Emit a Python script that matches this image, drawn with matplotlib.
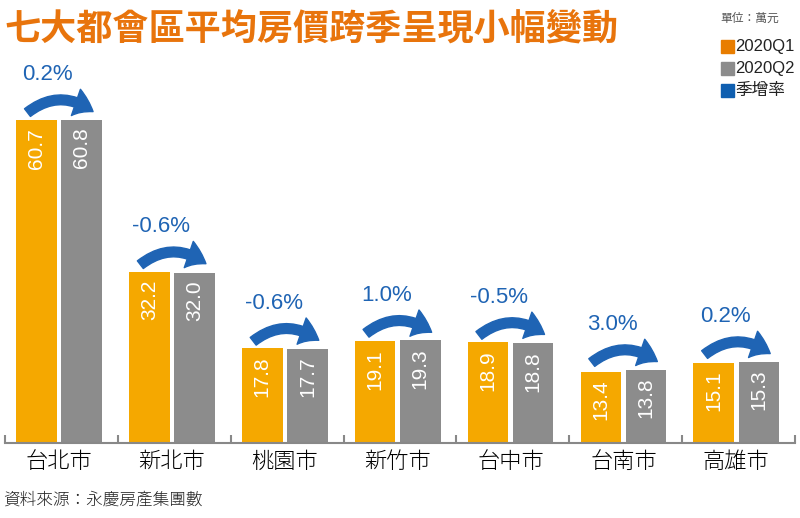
import numpy as np
import matplotlib.pyplot as plt
from matplotlib.patches import FancyArrowPatch, Rectangle

plt.rcParams['font.family'] = ['Noto Sans CJK JP', 'Noto Sans CJK TC', 'Noto Sans CJK SC', 'DejaVu Sans']

cities = ['台北市', '新北市', '桃園市', '新竹市', '台中市', '台南市', '高雄市']
q1 = [60.7, 32.2, 17.8, 19.1, 18.9, 13.4, 15.1]
q2 = [60.8, 32.0, 17.7, 19.3, 18.8, 13.8, 15.3]
growth = ['0.2%', '-0.6%', '-0.6%', '1.0%', '-0.5%', '3.0%', '0.2%']

c_q1 = '#f5a800'
c_q2 = '#8c8c8c'
c_blue = '#1f64b4'
num_font = 'Liberation Sans'

fig = plt.figure(figsize=(8, 5.18), dpi=100)
ax = fig.add_axes([5/800, 75/518, 790/800, 443/518])
x = np.arange(len(cities))
w = 0.36
ax.bar(x - 0.2, q1, w, color=c_q1)
ax.bar(x + 0.2, q2, w, color=c_q2)
ax.set_xlim(-0.48, len(cities) - 0.48)
ax.set_ylim(0, 83.3)

for i in range(len(cities)):
    ax.text(x[i] - 0.2, q1[i] - 1.5, f'{q1[i]:.1f}', rotation=90, ha='center', va='top',
            color='white', fontsize=15, family=num_font)
    ax.text(x[i] + 0.2, q2[i] - 1.5, f'{q2[i]:.1f}', rotation=90, ha='center', va='top',
            color='white', fontsize=15, family=num_font)
    top = max(q1[i], q2[i])
    arr = FancyArrowPatch((x[i] - 0.3, top + 1.0), (x[i] + 0.32, top + 1.2),
                          connectionstyle='arc3,rad=-0.4',
                          arrowstyle='simple,head_width=20,head_length=14,tail_width=7',
                          color=c_blue, mutation_scale=1)
    ax.add_patch(arr)
    ax.text(x[i] - 0.1, top + 8.5, growth[i], ha='center', va='center', color=c_blue,
            fontsize=16, family=num_font)

for s in ['top', 'right', 'left']:
    ax.spines[s].set_visible(False)
ax.spines['bottom'].set_color('#888888')
ax.spines['bottom'].set_linewidth(1.5)
ax.set_yticks([])
ax.set_xticks(np.arange(len(cities) + 1) - 0.48, minor=True)
ax.tick_params(axis='x', which='minor', length=6, color='#888888', width=1.5, direction='in')
ax.set_xticks(x)
ax.set_xticklabels(cities, fontsize=16, fontweight='light')
ax.tick_params(axis='x', which='major', length=0, pad=6)

fig.text(4/800, 1 - 30/518, '七大都會區平均房價跨季呈現小幅變動', fontsize=26, fontweight='bold',
         color='#e8740c', va='center')
fig.text(720/800, 1 - 18/518, '單位：萬元', fontsize=8.5, color='#555555', va='center')
for j, (lab, col) in enumerate([('2020Q1', '#e87d00'), ('2020Q2', '#8c8c8c'), ('季增率', '#0f5fb0')]):
    yy = 1 - (46 + j * 22) / 518
    fig.patches.append(Rectangle((721/800, yy - 6.5/518), 13/800, 13/518, color=col,
                                 transform=fig.transFigure, figure=fig))
    fig.text(735/800, yy, lab, fontsize=12, va='center', color='#222222',
             family=num_font if j < 2 else None)
fig.text(3/800, 1 - 500/518, '資料來源：永慶房產集團數', fontsize=12, va='center', color='#222222',
         fontweight='light')

fig.savefig('out.png', dpi=100)
